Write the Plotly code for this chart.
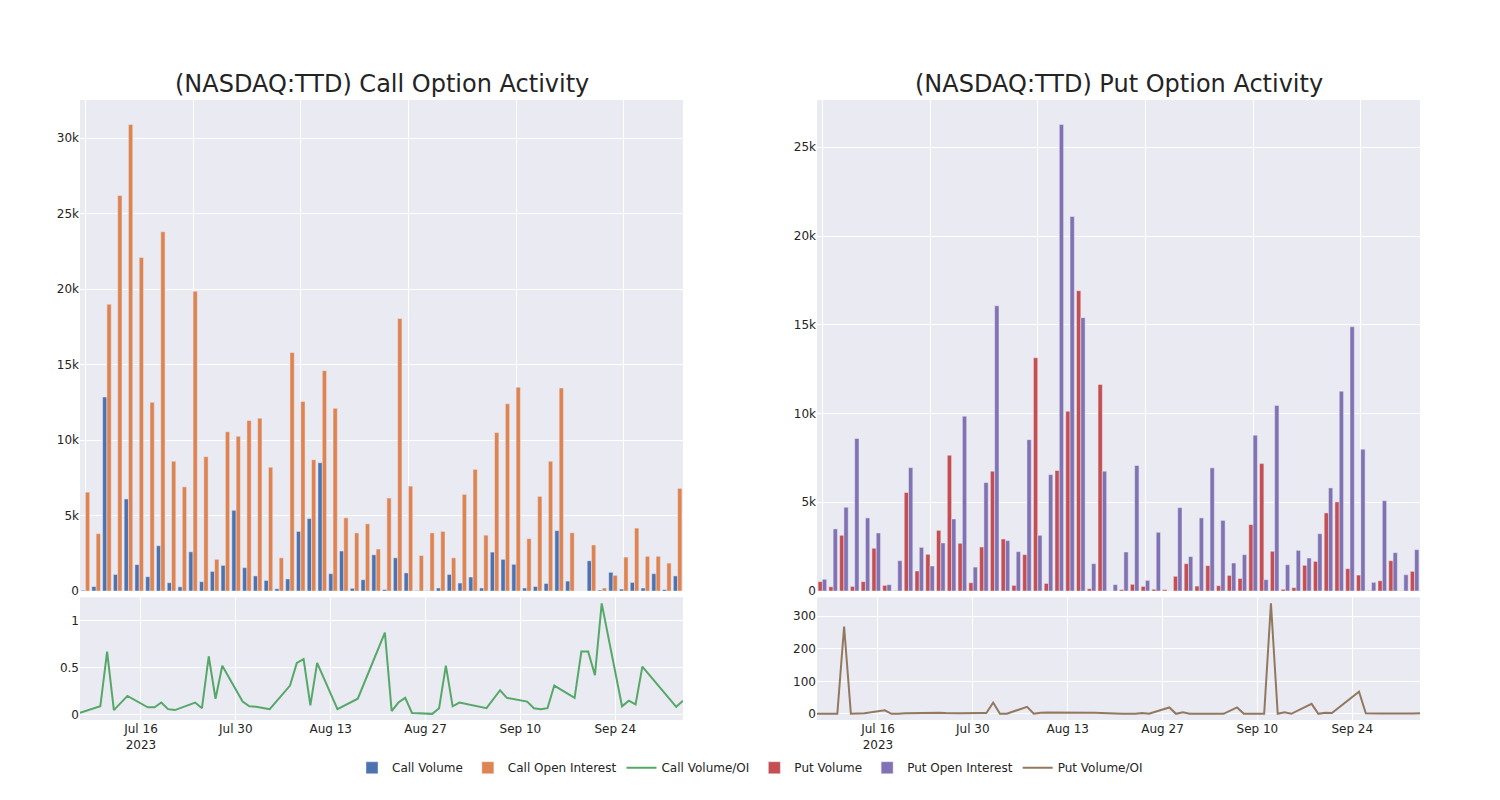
import plotly.graph_objects as go
from plotly.subplots import make_subplots

# Trading dates (categories for bars, dates for ratio lines)
dates = [
    "2023-07-07", "2023-07-10", "2023-07-11", "2023-07-12", "2023-07-14",
    "2023-07-17", "2023-07-18", "2023-07-19", "2023-07-20", "2023-07-21",
    "2023-07-24", "2023-07-25", "2023-07-26", "2023-07-27", "2023-07-28",
    "2023-07-31", "2023-08-01", "2023-08-02", "2023-08-03", "2023-08-04",
    "2023-08-07", "2023-08-08", "2023-08-09", "2023-08-10", "2023-08-11",
    "2023-08-14", "2023-08-17",
    "2023-08-21", "2023-08-22", "2023-08-23", "2023-08-24", "2023-08-25",
    "2023-08-28", "2023-08-29", "2023-08-30", "2023-08-31", "2023-09-01",
    "2023-09-05", "2023-09-07", "2023-09-08",
    "2023-09-11", "2023-09-12", "2023-09-13", "2023-09-14", "2023-09-15",
    "2023-09-18", "2023-09-19", "2023-09-20", "2023-09-21", "2023-09-22",
    "2023-09-25", "2023-09-26", "2023-09-27", "2023-09-28",
    "2023-10-03", "2023-10-04",
]

call_volume = [
    50, 300, 12850, 1100, 6100,
    1750, 950, 3000, 550, 280,
    2600, 620, 1300, 1700, 5350,
    1550, 1000, 700, 150, 800,
    3950, 4800, 8500, 1150, 2650,
    180, 750,
    2400, 100, 2200, 1200, 30,
    20, 200, 1100, 530, 930,
    200, 2580, 2100,
    1770, 200, 300, 500, 4000,
    660, 2, 2000, 70, 1240,
    130, 570, 200, 1150,
    100, 1000,
]

call_open_interest = [
    6550, 3800, 19000, 26200, 30900,
    22100, 12500, 23800, 8600, 6900,
    19850, 8900, 2100, 10550, 10250,
    11300, 11450, 8200, 2200, 15800,
    12550, 8700, 14600, 12100, 4850,
    3850, 4450,
    2780, 6160, 18050, 6950, 2350,
    3850, 3950, 2200, 6400, 8060,
    3700, 10500, 12400,
    13500, 3470, 6270, 8600, 13450,
    3860, 3, 3050, 200, 1040,
    2250, 4170, 2300, 2300,
    1850, 6800,
]

call_vol_oi = [
    0.02, 0.09, 0.67, 0.05, 0.20,
    0.08, 0.08, 0.13, 0.06, 0.05,
    0.13, 0.07, 0.62, 0.17, 0.52,
    0.14, 0.09, 0.085, 0.072, 0.06,
    0.31, 0.55, 0.59, 0.10, 0.55,
    0.06, 0.17,
    0.87, 0.04, 0.13, 0.18, 0.02,
    0.01, 0.07, 0.52, 0.09, 0.13,
    0.07, 0.26, 0.18,
    0.14, 0.07, 0.06, 0.07, 0.31,
    0.18, 0.67, 0.67, 0.42, 1.18,
    0.09, 0.15, 0.11, 0.51,
    0.085, 0.15,
]

put_volume = [
    530, 240, 3140, 260, 530,
    2410, 320, 20, 5550, 1130,
    2070, 3420, 7650, 2690, 470,
    2480, 6750, 2930, 320, 2050,
    13140, 430, 6790, 10130, 16920,
    130, 11640,
    0, 80, 380, 260, 100,
    80, 830, 1540, 280, 1430,
    300, 880, 710,
    3740, 7180, 2240, 100, 190,
    1450, 1670, 4400, 5020, 1260,
    900, 20, 580, 1710,
    10, 1110,
]

put_open_interest = [
    660, 3500, 4720, 8590, 4120,
    3270, 360, 1710, 6950, 2460,
    1410, 2710, 4060, 9850, 1350,
    6110, 16070, 2840, 2220, 8530,
    3140, 6560, 26280, 21100, 15400,
    1540, 6750,
    360, 2200, 7070, 600, 3310,
    0, 4700, 1940, 4120, 6940,
    3980, 1580, 2050,
    8780, 640, 10450, 1480, 2290,
    1860, 3230, 5810, 11260, 14890,
    7990, 490, 5090, 2160,
    920, 2330,
]

put_vol_oi = [
    0.8, 0.5, 268, 0.5, 2,
    11, 0.5, 0.3, 2.5, 3,
    3, 4, 3, 2.5, 2,
    3, 3, 35, 0.5, 0.5,
    22, 0.5, 4, 4.5, 4.5,
    5, 4,
    0.5, 0.5, 0.5, 3, 0.5,
    20, 0.5, 5, 0.5, 0.5,
    0.5, 20, 0.5,
    0.5, 339, 0.5, 5, 0.5,
    31, 0.5, 4, 3, 20,
    68, 2, 1.5, 1.5,
    1.5, 2,
]

colors = ["rgb(76,114,176)", "rgb(221,132,82)", "rgb(85,168,104)",
          "rgb(196,78,82)", "rgb(129,114,179)", "rgb(147,120,96)"]

fig = make_subplots(
    rows=2, cols=2,
    row_heights=[0.8, 0.2],
    vertical_spacing=0.01,
    horizontal_spacing=0.1,
    subplot_titles=("(NASDAQ:TTD) Call Option Activity",
                    "(NASDAQ:TTD) Put Option Activity", "", ""),
)

fig.add_trace(go.Bar(x=dates, y=call_volume, name="Call Volume",
                     marker_color=colors[0]), row=1, col=1)
fig.add_trace(go.Bar(x=dates, y=call_open_interest, name="Call Open Interest",
                     marker_color=colors[1]), row=1, col=1)
fig.add_trace(go.Scatter(x=dates, y=call_vol_oi, name="Call Volume/OI",
                         mode="lines", line=dict(color=colors[2], width=2)),
              row=2, col=1)
fig.add_trace(go.Bar(x=dates, y=put_volume, name="Put Volume",
                     marker_color=colors[3]), row=1, col=2)
fig.add_trace(go.Bar(x=dates, y=put_open_interest, name="Put Open Interest",
                     marker_color=colors[4]), row=1, col=2)
fig.add_trace(go.Scatter(x=dates, y=put_vol_oi, name="Put Volume/OI",
                         mode="lines", line=dict(color=colors[5], width=2)),
              row=2, col=2)

fig.update_layout(
    template="seaborn",
    width=1500, height=800,
    barmode="group",
    font=dict(family="DejaVu Sans", size=12, color="rgb(36,36,36)"),
    margin=dict(l=72, r=88, t=92, b=88),
    legend=dict(orientation="h", x=0.5, xanchor="center",
                y=-0.077, yanchor="middle", font=dict(size=12)),
)
fig.update_annotations(font=dict(size=24, family="DejaVu Sans", color="rgb(36,36,36)"))

for c in (1, 2):
    fig.update_xaxes(type="category", showticklabels=False, tickmode="linear",
                     tick0=0, dtick=10, row=1, col=c)
    fig.update_xaxes(type="date", row=2, col=c)

fig.write_html("out.html")
